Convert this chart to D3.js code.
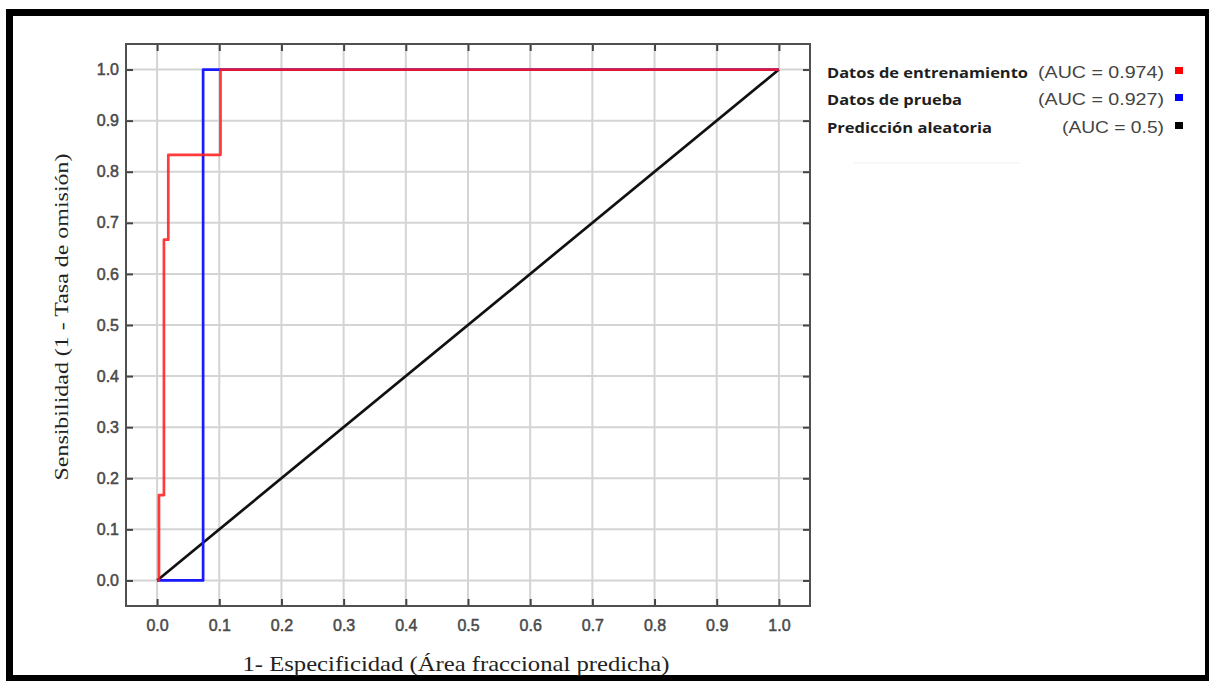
<!DOCTYPE html>
<html>
<head>
<meta charset="utf-8">
<script src="https://cdn.jsdelivr.net/npm/d3@7"></script>
<style>
  html, body { margin: 0; padding: 0; background: #fff; }
  svg { display: block; }
</style>
</head>
<body>
<svg id="chart" width="1209" height="681"></svg>
<script>
// ROC curves: training data, test data and the random-prediction reference line
const xTicks = [0, 0.1, 0.2, 0.3, 0.4, 0.5, 0.6, 0.7, 0.8, 0.9, 1.0];
const yTicks = [0, 0.1, 0.2, 0.3, 0.4, 0.5, 0.6, 0.7, 0.8, 0.9, 1.0];

// [1 - specificity, sensitivity]
const trainingCurve = [
  [0, 0], [0.003, 0], [0.003, 0.167], [0.011, 0.167], [0.011, 0.667],
  [0.018, 0.667], [0.018, 0.833], [0.102, 0.833], [0.102, 1.0], [1.0, 1.0]
];
const testCurve = [
  [0, 0], [0.074, 0], [0.074, 1.0], [1.0, 1.0]
];
const randomCurve = [[0, 0], [1.0, 1.0]];

const seriesNames = ["Datos de entrenamiento", "Datos de prueba", "Predicción aleatoria"];
const seriesAuc = ["(AUC = 0.974)", "(AUC = 0.927)", "(AUC = 0.5)"];
const seriesColors = ["#ff1a1a", "#1a1aff", "#111111"];
const markerColors = ["#ff0000", "#0000ff", "#000000"];

const xTitle = "1- Especificidad (Área fraccional predicha)";
const yTitle = "Sensibilidad (1 - Tasa de omisión)";

const svg = d3.select("#chart");
const W = 1209, H = 681;

// outer black frame
svg.append("rect").attr("x", 6).attr("y", 9).attr("width", W - 6).attr("height", H - 9).attr("fill", "#000");
svg.append("rect").attr("x", 13).attr("y", 16).attr("width", 1205 - 13).attr("height", 675 - 16).attr("fill", "#fff");

const plot = { left: 126, right: 810, top: 44, bottom: 606 };
const x = d3.scaleLinear().domain([-0.05, 1.05]).range([plot.left, plot.right]);
const y = d3.scaleLinear().domain([-0.05, 1.05]).range([plot.bottom, plot.top]);

// grid
const grid = svg.append("g");
grid.selectAll("line.vx").data(xTicks).join("line")
  .attr("x1", d => x(d)).attr("x2", d => x(d))
  .attr("y1", plot.top).attr("y2", plot.bottom)
  .attr("stroke", "#d4d4d4").attr("stroke-width", 2);
grid.selectAll("line.hy").data(yTicks).join("line")
  .attr("x1", plot.left).attr("x2", plot.right)
  .attr("y1", d => y(d)).attr("y2", d => y(d))
  .attr("stroke", "#d4d4d4").attr("stroke-width", 2);

// axes with inward ticks
const fmt = d3.format(".1f");
function styleAxis(g) {
  g.select(".domain").remove();
  g.selectAll(".tick line").attr("stroke", "#444").attr("stroke-width", 2);
  g.selectAll(".tick text")
    .attr("fill", "#4a4a4a")
    .attr("stroke", "#4a4a4a").attr("stroke-width", 0.5)
    .style("font-family", "'Liberation Sans', Arial, sans-serif")
    .style("font-size", "16px");
}
svg.append("g").attr("transform", `translate(0,${plot.bottom})`)
  .call(d3.axisBottom(x).tickValues(xTicks).tickFormat(fmt).tickSize(-7).tickPadding(14))
  .call(styleAxis);
svg.append("g").attr("transform", `translate(${plot.left},0)`)
  .call(d3.axisLeft(y).tickValues(yTicks).tickFormat(fmt).tickSize(-7).tickPadding(7))
  .call(styleAxis);
svg.append("g").attr("transform", `translate(0,${plot.top})`)
  .call(d3.axisTop(x).tickValues(xTicks).tickFormat("").tickSize(-7))
  .call(styleAxis);
svg.append("g").attr("transform", `translate(${plot.right},0)`)
  .call(d3.axisRight(y).tickValues(yTicks).tickFormat("").tickSize(-7))
  .call(styleAxis);

// plot frame
svg.append("rect")
  .attr("x", plot.left).attr("y", plot.top)
  .attr("width", plot.right - plot.left).attr("height", plot.bottom - plot.top)
  .attr("fill", "none").attr("stroke", "#505050").attr("stroke-width", 2);

// curves
const line = d3.line().x(d => x(d[0])).y(d => y(d[1]));
svg.append("path").datum(randomCurve).attr("d", line)
  .attr("fill", "none").attr("stroke", seriesColors[2]).attr("stroke-width", 2.7);
svg.append("path").datum(testCurve).attr("d", line)
  .attr("fill", "none").attr("stroke", seriesColors[1]).attr("stroke-width", 2.7)
  .attr("stroke-linejoin", "round");
svg.append("path").datum(trainingCurve).attr("d", line)
  .attr("fill", "none").attr("stroke", seriesColors[0]).attr("stroke-width", 2.7)
  .attr("stroke-opacity", 0.85).attr("stroke-linejoin", "round");

// axis titles
svg.append("text")
  .attr("x", 456).attr("y", 671)
  .attr("text-anchor", "middle")
  .attr("textLength", 427).attr("lengthAdjust", "spacingAndGlyphs")
  .attr("fill", "#222")
  .style("font-family", "'Liberation Serif', 'Times New Roman', serif")
  .style("font-size", "21px")
  .text(xTitle);
svg.append("text")
  .attr("transform", "translate(68,317) rotate(-90)")
  .attr("text-anchor", "middle")
  .attr("textLength", 327).attr("lengthAdjust", "spacingAndGlyphs")
  .attr("fill", "#222")
  .style("font-family", "'Liberation Serif', 'Times New Roman', serif")
  .style("font-size", "19px")
  .text(yTitle);

// legend
const rowY = [78, 105, 133];
const nameWidths = [201, 135, 165];
const aucWidths = [126, 126, 102];
const legend = svg.append("g");
seriesNames.forEach((name, i) => {
  legend.append("text")
    .attr("x", 827).attr("y", rowY[i])
    .attr("textLength", nameWidths[i]).attr("lengthAdjust", "spacingAndGlyphs")
    .attr("fill", "#1e1e1e")
    .style("font-family", "'Open Sans', sans-serif")
    .style("font-weight", 700)
    .style("font-size", "15px")
    .text(name);
  legend.append("text")
    .attr("x", 1164).attr("y", rowY[i])
    .attr("text-anchor", "end")
    .attr("textLength", aucWidths[i]).attr("lengthAdjust", "spacingAndGlyphs")
    .attr("fill", "#444")
    .style("font-family", "'Liberation Sans', Arial, sans-serif")
    .style("font-size", "17px")
    .text(seriesAuc[i]);
  legend.append("rect")
    .attr("x", 1175).attr("y", rowY[i] - 11)
    .attr("width", 8).attr("height", 7)
    .attr("fill", markerColors[i]);
});
legend.append("line")
  .attr("x1", 853).attr("x2", 1020).attr("y1", 163).attr("y2", 163)
  .attr("stroke", "#f0f0f0").attr("stroke-width", 1);
</script>
</body>
</html>
